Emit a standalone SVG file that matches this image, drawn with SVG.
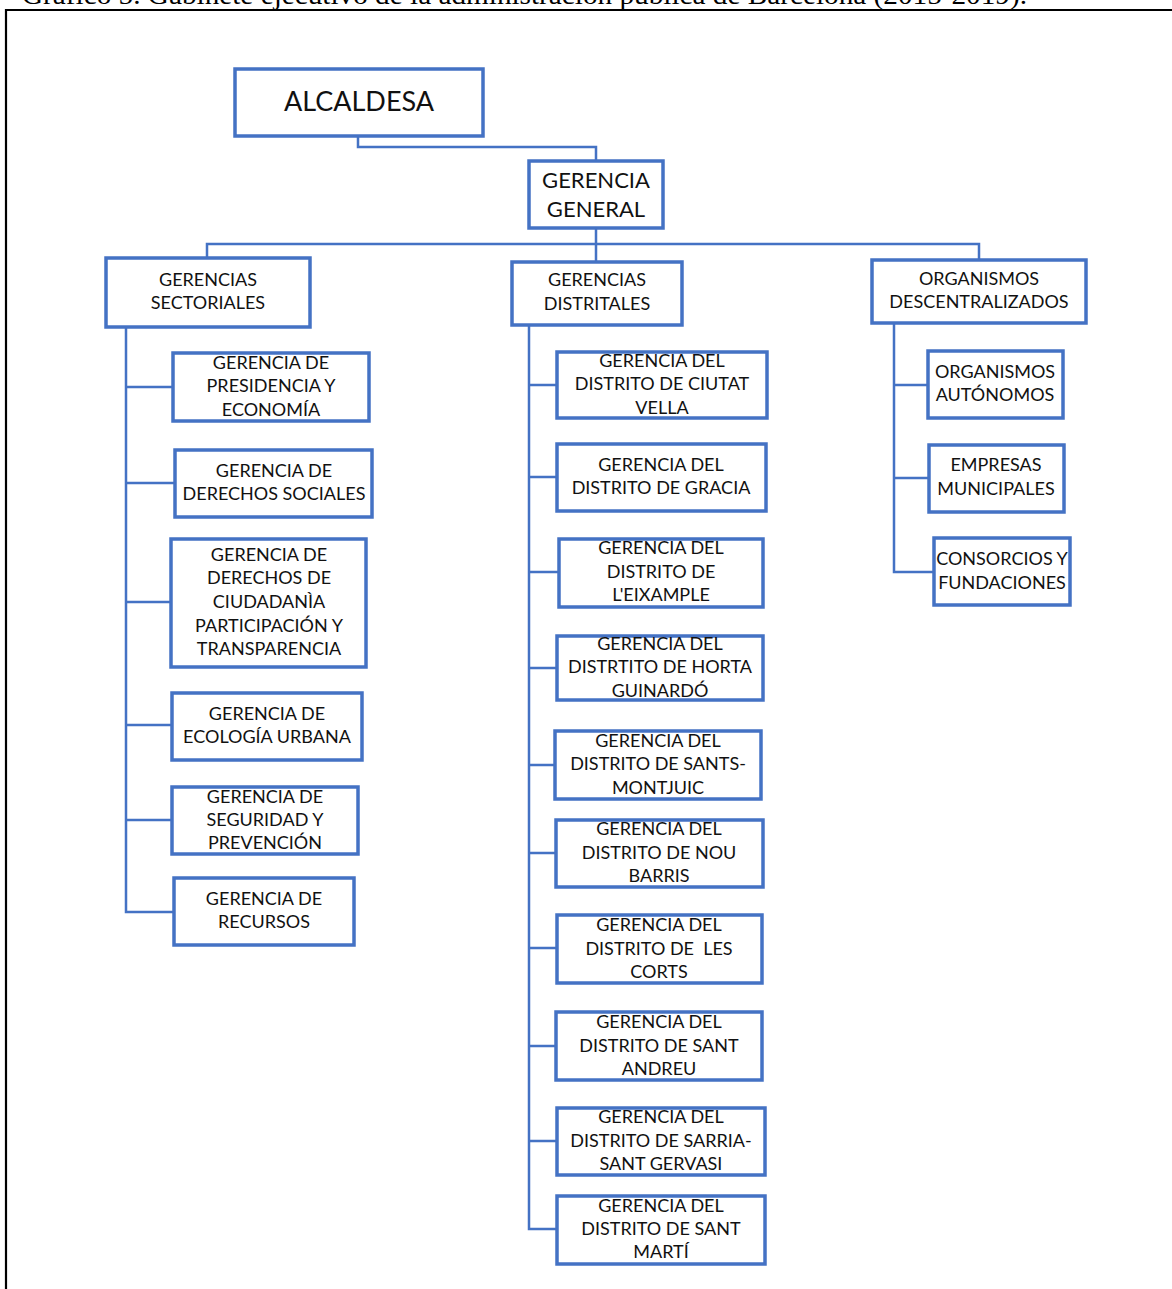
<svg xmlns="http://www.w3.org/2000/svg" width="1172" height="1289" viewBox="0 0 1172 1289">
<style>
.b{fill:#fff;stroke:#4472C4;stroke-width:3.5}
.c{fill:none;stroke:#4472C4;stroke-width:2.5}
.t{font-family:Lato,"Open Sans",sans-serif;font-size:18px;fill:#111;text-anchor:middle}
.big{font-size:22px}
.cap{font-family:"Liberation Serif",serif;font-size:22px;fill:#000}
</style>
<rect width="1172" height="1289" fill="#fff"/>
<text class="cap" x="22" y="4" textLength="1005" lengthAdjust="spacingAndGlyphs" style="font-size:28px">Gráfico 5. Gabinete ejecutivo de la administración pública de Barcelona (2015-2019).</text>
<path d="M6 1289V10H1172" fill="none" stroke="#000" stroke-width="2.2"/>
<g id="connectors">
<path class="c" d="M358 136V147H596V161"/>
<path class="c" d="M596 228V262M207 258V244H979V260"/>
<path class="c" d="M126 327V912H174M126 387H173M126 483H175M126 602H171M126 725H172M126 820H172"/>
<path class="c" d="M529 325V1229H557M529 385H557M529 477H557M529 572H559M529 668H557M529 765H555M529 853H556M529 948H557M529 1046H556M529 1141H557"/>
<path class="c" d="M894 323V572H934M894 385H928M894 478H929"/>
</g>
<g id="alcaldesa"><rect class="b" x="235" y="69" width="248" height="67"/><text class="t" x="359" y="111" style="font-size:27px">ALCALDESA</text></g>
<g id="gerencia-general"><rect class="b" x="529" y="161" width="134" height="67"/><text class="t big" x="596" y="188">GERENCIA</text><text class="t big" x="596" y="217">GENERAL</text></g>
<g id="sectoriales"><rect class="b" x="106" y="258" width="204" height="69"/><text class="t" x="208" y="286">GERENCIAS</text><text class="t" x="208" y="309">SECTORIALES</text></g>
<g id="distritales"><rect class="b" x="512" y="262" width="170" height="63"/><text class="t" x="597" y="286">GERENCIAS</text><text class="t" x="597" y="310">DISTRITALES</text></g>
<g id="descentralizados"><rect class="b" x="872" y="260" width="214" height="63"/><text class="t" x="979" y="285">ORGANISMOS</text><text class="t" x="979" y="308">DESCENTRALIZADOS</text></g>

<g id="s1"><rect class="b" x="173" y="353" width="196" height="68"/><text class="t" x="271" y="369">GERENCIA DE</text><text class="t" x="271" y="392">PRESIDENCIA Y</text><text class="t" x="271" y="416">ECONOMÍA</text></g>
<g id="s2"><rect class="b" x="175" y="450" width="197" height="67"/><text class="t" x="274" y="477">GERENCIA DE</text><text class="t" x="274" y="500">DERECHOS SOCIALES</text></g>
<g id="s3"><rect class="b" x="171" y="539" width="195" height="128"/><text class="t" x="269" y="561">GERENCIA DE</text><text class="t" x="269" y="584">DERECHOS DE</text><text class="t" x="269" y="608">CIUDADANÌA</text><text class="t" x="269" y="632">PARTICIPACIÓN Y</text><text class="t" x="269" y="655">TRANSPARENCIA</text></g>
<g id="s4"><rect class="b" x="172" y="693" width="190" height="67"/><text class="t" x="267" y="720">GERENCIA DE</text><text class="t" x="267" y="743">ECOLOGÍA URBANA</text></g>
<g id="s5"><rect class="b" x="172" y="787" width="186" height="67"/><text class="t" x="265" y="803">GERENCIA DE</text><text class="t" x="265" y="826">SEGURIDAD Y</text><text class="t" x="265" y="849">PREVENCIÓN</text></g>
<g id="s6"><rect class="b" x="174" y="878" width="180" height="67"/><text class="t" x="264" y="905">GERENCIA DE</text><text class="t" x="264" y="928">RECURSOS</text></g>

<g id="d1"><rect class="b" x="557" y="352" width="210" height="66"/><text class="t" x="662" y="367">GERENCIA DEL</text><text class="t" x="662" y="390">DISTRITO DE CIUTAT</text><text class="t" x="662" y="414">VELLA</text></g>
<g id="d2"><rect class="b" x="557" y="444" width="209" height="67"/><text class="t" x="661" y="471">GERENCIA DEL</text><text class="t" x="661" y="494">DISTRITO DE GRACIA</text></g>
<g id="d3"><rect class="b" x="559" y="539" width="204" height="68"/><text class="t" x="661" y="554">GERENCIA DEL</text><text class="t" x="661" y="578">DISTRITO DE</text><text class="t" x="661" y="601">L'EIXAMPLE</text></g>
<g id="d4"><rect class="b" x="557" y="636" width="206" height="64"/><text class="t" x="660" y="650">GERENCIA DEL</text><text class="t" x="660" y="673">DISTRTITO DE HORTA</text><text class="t" x="660" y="697">GUINARDÓ</text></g>
<g id="d5"><rect class="b" x="555" y="731" width="206" height="68"/><text class="t" x="658" y="747">GERENCIA DEL</text><text class="t" x="658" y="770">DISTRITO DE SANTS-</text><text class="t" x="658" y="794">MONTJUIC</text></g>
<g id="d6"><rect class="b" x="556" y="820" width="207" height="67"/><text class="t" x="659" y="835">GERENCIA DEL</text><text class="t" x="659" y="859">DISTRITO DE NOU</text><text class="t" x="659" y="882">BARRIS</text></g>
<g id="d7"><rect class="b" x="557" y="915" width="205" height="68"/><text class="t" x="659" y="931">GERENCIA DEL</text><text class="t" x="659" y="955" style="white-space:pre">DISTRITO DE  LES</text><text class="t" x="659" y="978">CORTS</text></g>
<g id="d8"><rect class="b" x="556" y="1012" width="206" height="68"/><text class="t" x="659" y="1028">GERENCIA DEL</text><text class="t" x="659" y="1052">DISTRITO DE SANT</text><text class="t" x="659" y="1075">ANDREU</text></g>
<g id="d9"><rect class="b" x="557" y="1108" width="208" height="67"/><text class="t" x="661" y="1123">GERENCIA DEL</text><text class="t" x="661" y="1147">DISTRITO DE SARRIA-</text><text class="t" x="661" y="1170">SANT GERVASI</text></g>
<g id="d10"><rect class="b" x="557" y="1196" width="208" height="68"/><text class="t" x="661" y="1212">GERENCIA DEL</text><text class="t" x="661" y="1235">DISTRITO DE SANT</text><text class="t" x="661" y="1258">MARTÍ</text></g>

<g id="o1"><rect class="b" x="928" y="351" width="135" height="67"/><text class="t" x="995" y="378">ORGANISMOS</text><text class="t" x="995" y="401">AUTÓNOMOS</text></g>
<g id="o2"><rect class="b" x="929" y="445" width="135" height="67"/><text class="t" x="996" y="471">EMPRESAS</text><text class="t" x="996" y="495">MUNICIPALES</text></g>
<g id="o3"><rect class="b" x="934" y="538" width="136" height="67"/><text class="t" x="1002" y="565">CONSORCIOS Y</text><text class="t" x="1002" y="589">FUNDACIONES</text></g>
</svg>
